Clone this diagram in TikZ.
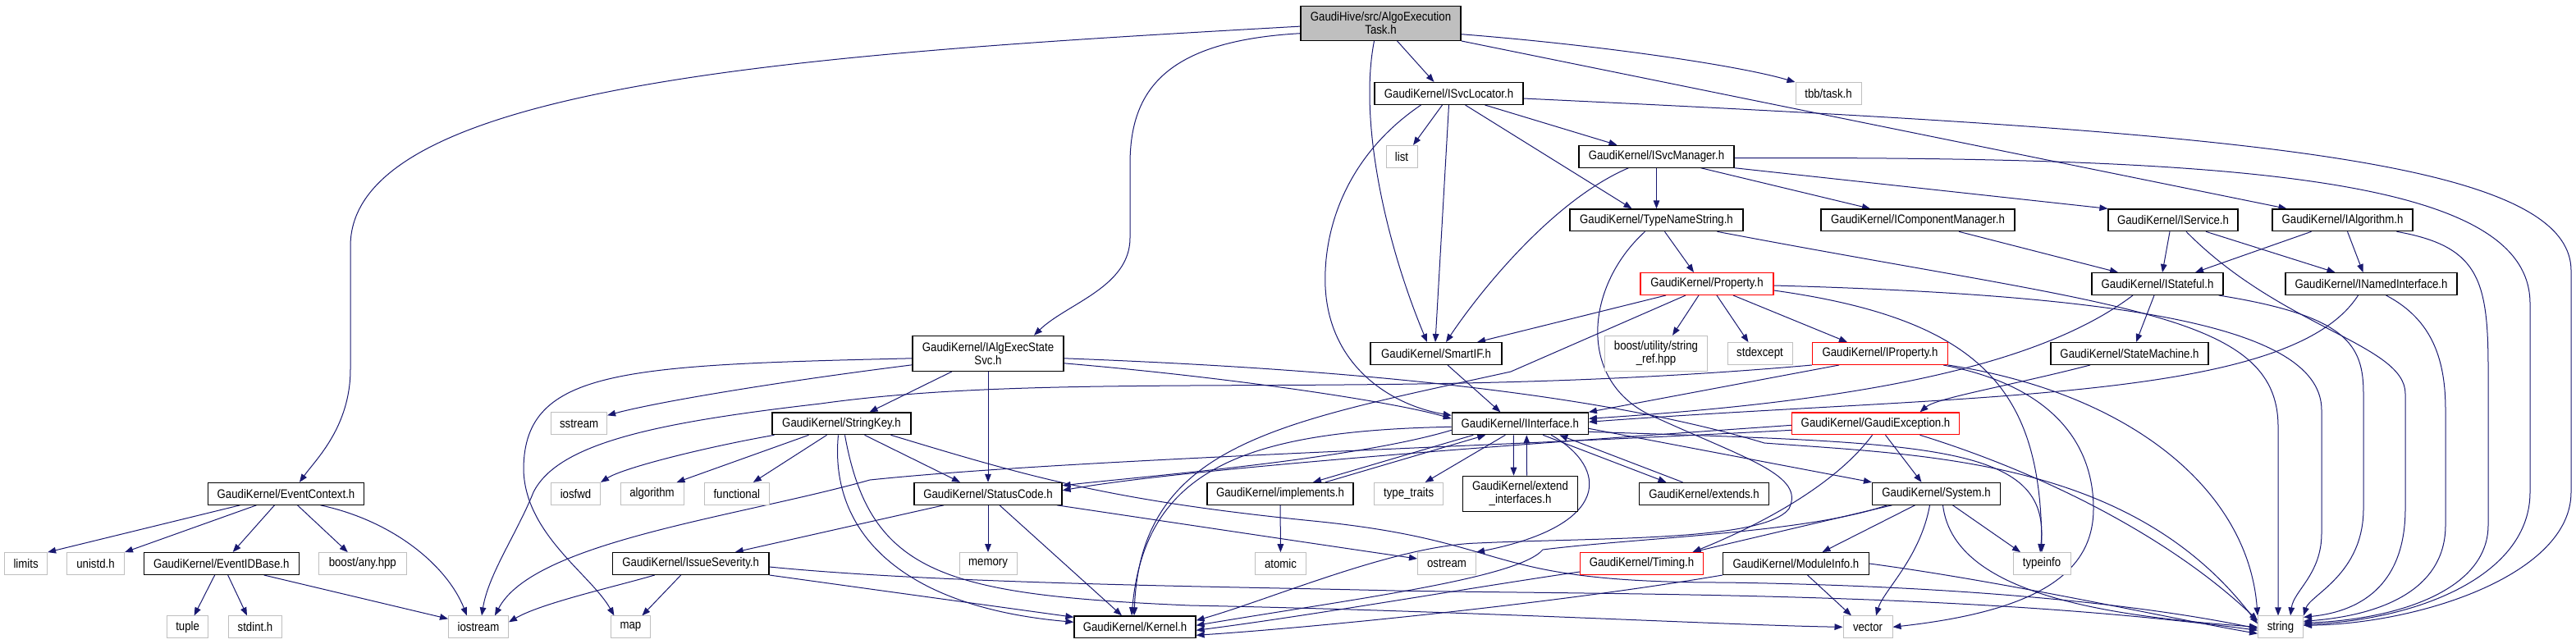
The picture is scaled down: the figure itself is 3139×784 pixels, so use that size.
\documentclass[tikz,border=0pt]{standalone}
\usepackage{fontspec}
\setmainfont{Liberation Sans}[FakeStretch=0.87]
\usepackage{tikz}
\usetikzlibrary{arrows.meta}
\usetikzlibrary{backgrounds}
\definecolor{edgeblue}{HTML}{191970}
\definecolor{sysgray}{HTML}{BFBFBF}
\newcommand{\hdrfont}{\fontsize{7.6pt}{7.9pt}\selectfont}
\tikzstyle{hdr}=[rectangle,draw=black,line width=0.6pt,fill=white,inner sep=0pt,minimum height=13.4pt,font=\hdrfont]
\tikzstyle{hdrtwo}=[hdr,minimum height=21.5pt,align=center]
\tikzstyle{sys}=[hdr,draw=sysgray,line width=0.5pt]
\tikzstyle{systwo}=[hdrtwo,draw=sysgray,line width=0.5pt]
\tikzstyle{warn}=[hdr,draw=red]
\tikzstyle{root}=[hdrtwo,minimum height=21pt,fill=sysgray]
\tikzstyle{dep}=[-{Triangle[length=5pt,width=3.8pt]},draw=edgeblue,line width=0.5pt]
\begin{document}
\begin{tikzpicture}[x=0.5pt,y=-0.5pt]
\useasboundingbox (0,0) rectangle (3139,784);
\node[root,minimum width=97.5pt] (top) at (1682.5,28.3) {GaudiHive/src/AlgoExecution\\Task.h};
\node[hdr,minimum width=90.5pt] (svcloc) at (1765.5,114) {GaudiKernel/ISvcLocator.h};
\node[sys,minimum width=40pt] (tbb) at (2228,114) {tbb/task.h};
\node[sys,minimum width=19pt] (list) at (1708,190.7) {list};
\node[hdr,minimum width=94.5pt] (svcmgr) at (2018.5,190.7) {GaudiKernel/ISvcManager.h};
\node[hdr,minimum width=105.5pt] (typename) at (2018.5,268.3) {GaudiKernel/TypeNameString.h};
\node[hdr,minimum width=118pt] (compmgr) at (2337,268.3) {GaudiKernel/IComponentManager.h};
\node[hdr,minimum width=79pt] (iservice) at (2648,268.3) {GaudiKernel/IService.h};
\node[hdr,minimum width=85.5pt] (ialgo) at (2854.5,268.3) {GaudiKernel/IAlgorithm.h};
\node[warn,minimum width=81pt] (property) at (2080,346) {GaudiKernel/Property.h};
\node[hdr,minimum width=80pt] (istateful) at (2629,346) {GaudiKernel/IStateful.h};
\node[hdr,minimum width=104.5pt] (inamed) at (2889.5,346) {GaudiKernel/INamedInterface.h};
\node[hdrtwo,minimum width=92pt] (algexec) at (1204,430.8) {GaudiKernel/IAlgExecState\\Svc.h};
\node[hdr,minimum width=80pt] (smartif) at (1750,431) {GaudiKernel/SmartIF.h};
\node[systwo,minimum width=62.5pt] (boostsr) at (2018,430.8) {boost/utility/string\\\_ref.hpp};
\node[sys,minimum width=39.5pt] (stdexcept) at (2144.5,431) {stdexcept};
\node[warn,minimum width=82.5pt] (iproperty) at (2291,431) {GaudiKernel/IProperty.h};
\node[hdr,minimum width=96pt] (statemach) at (2595,431) {GaudiKernel/StateMachine.h};
\node[sys,minimum width=34pt] (sstream) at (705.6,516.3) {sstream};
\node[hdr,minimum width=84.5pt] (stringkey) at (1025.5,516.3) {GaudiKernel/StringKey.h};
\node[hdr,minimum width=83pt] (iinterface) at (1852.3,516.3) {GaudiKernel/IInterface.h};
\node[warn,minimum width=101.75pt] (gexcept) at (2285.5,516.3) {GaudiKernel/GaudiException.h};
\node[hdr,minimum width=95pt] (eventctx) at (348.5,601.8) {GaudiKernel/EventContext.h};
\node[sys,minimum width=30pt] (iosfwd) at (701.5,601.8) {iosfwd};
\node[sys,minimum width=38.5pt] (algorithm) at (794.5,601.8) {algorithm};
\node[sys,minimum width=39.25pt] (functional) at (897.8,601.8) {functional};
\node[hdr,minimum width=90pt] (statuscode) at (1204,601.8) {GaudiKernel/StatusCode.h};
\node[hdr,minimum width=89pt] (implements) at (1560,601.8) {GaudiKernel/implements.h};
\node[sys,minimum width=42pt] (typetraits) at (1716.6,601.8) {type\_traits};
\node[hdrtwo,minimum width=70pt] (extendif) at (1852.5,601.8) {GaudiKernel/extend\\\_interfaces.h};
\node[hdr,minimum width=79pt] (extends) at (2076.5,601.8) {GaudiKernel/extends.h};
\node[hdr,minimum width=78pt] (system) at (2359.5,601.8) {GaudiKernel/System.h};
\node[sys,minimum width=26pt] (limits) at (31.6,687) {limits};
\node[sys,minimum width=35pt] (unistd) at (116.5,687) {unistd.h};
\node[hdr,minimum width=94.5pt] (eventid) at (269.7,687) {GaudiKernel/EventIDBase.h};
\node[sys,minimum width=53.5pt] (boostany) at (441.8,687) {boost/any.hpp};
\node[hdr,minimum width=95.3pt] (issue) at (841.7,687) {GaudiKernel/IssueSeverity.h};
\node[sys,minimum width=35pt] (memory) at (1204,687) {memory};
\node[sys,minimum width=31pt] (atomic) at (1560.5,687) {atomic};
\node[sys,minimum width=35.5pt] (ostream) at (1763,687) {ostream};
\node[warn,minimum width=75pt] (timing) at (2000.5,687) {GaudiKernel/Timing.h};
\node[hdr,minimum width=89pt] (moduleinfo) at (2188.5,687) {GaudiKernel/ModuleInfo.h};
\node[sys,minimum width=35pt] (typeinfo) at (2488,687) {typeinfo};
\node[sys,minimum width=25pt] (tuple) at (228.6,764.3) {tuple};
\node[sys,minimum width=32.5pt] (stdint) at (311,764.3) {stdint.h};
\node[sys,minimum width=36.5pt] (iostream) at (583,764.3) {iostream};
\node[sys,minimum width=24pt] (map) at (768.4,764.3) {map};
\node[hdr,minimum width=74pt] (kernel) at (1383,764.3) {GaudiKernel/Kernel.h};
\node[sys,minimum width=30pt] (vector) at (2276,764.3) {vector};
\node[sys,minimum width=27.5pt] (string) at (2779,764.3) {string};
\begin{pgfonlayer}{background}
% AlgoExecutionTask.h
\draw[dep] ([yshift=-1.9pt]top.west) .. controls (1000,65) and (427,100) .. (427,300) -- (427,450) .. controls (427,520) and (385,560) .. ([xshift=8.2pt]eventctx.north);
\draw[dep] ([yshift=-6.2pt]top.west) .. controls (1420,50) and (1377,110) .. (1377,200) -- (1377,290) .. controls (1377,350) and (1300,370) .. ([xshift=28pt]algexec.north);
\draw[dep] ([xshift=10pt]top.south) -- ([xshift=-9pt]svcloc.north);
\draw[dep] ([xshift=-4pt]top.south) .. controls (1655,150) and (1690,300) .. ([xshift=-5.5pt]smartif.north);
\draw[dep] ([yshift=-6.7pt]top.east) .. controls (1950,55) and (2120,80) .. (tbb.north west);
\draw[dep] (top.south east) -- ([xshift=-34pt]ialgo.north);
% ISvcLocator.h
\draw[dep] ([xshift=-4pt]svcloc.south) -- ([xshift=7pt]list.north);
\draw[dep] (svcloc.south) -- ([xshift=-0.5pt]smartif.north);
\draw[dep] ([xshift=-17pt]svcloc.south) .. controls (1640,190) and (1612,280) .. (1615,350) .. controls (1620,450) and (1700,495) .. ([yshift=5pt]iinterface.west);
\draw[dep] ([xshift=10pt]svcloc.south) -- ([xshift=-15pt]typename.north);
\draw[dep] ([xshift=22pt]svcloc.south) -- ([xshift=-24pt]svcmgr.north);
\draw[dep] ([yshift=-3pt]svcloc.east) .. controls (2700,160) and (3133,190) .. (3133,330) -- (3133,600) .. controls (3133,700) and (2950,760) .. ([yshift=1pt]string.east);
% ISvcManager.h
\draw[dep] (svcmgr) -- (typename);
\draw[dep] ([xshift=-17pt]svcmgr.south) .. controls (1890,245) and (1800,360) .. ([xshift=6pt]smartif.north);
\draw[dep] ([xshift=27pt]svcmgr.south) -- ([xshift=-29pt]compmgr.north);
\draw[dep] (svcmgr.south east) -- (iservice.north west);
\draw[dep] ([yshift=-1pt]svcmgr.east) .. controls (2750,190) and (3083,220) .. (3083,370) -- (3083,600) .. controls (3083,700) and (2950,755) .. ([yshift=1.5pt]string.east);
% TypeNameString.h
\draw[dep] ([xshift=5pt]typename.south) -- ([xshift=-8pt]property.north);
\draw[dep] ([xshift=37pt]typename.south) .. controls (2580,375) and (2776,380) .. (2776,520) -- ([xshift=-1.5pt]string.north);
\draw[dep] ([xshift=-7pt]typename.south) .. controls (1930,350) and (1920,470) .. (2020,510) .. controls (2130,560) and (2200,580) .. (2180,620) .. controls (2150,660) and (1950,655) .. (1800,662) .. controls (1700,665) and (1550,730) .. ([yshift=4pt]kernel.east);
% interfaces
\draw[dep] ([xshift=25pt]compmgr.south) -- ([xshift=-24pt]istateful.north);
\draw[dep] ([xshift=-2pt]iservice.south) -- ([xshift=3pt]istateful.north);
\draw[dep] ([xshift=20pt]iservice.south) -- ([xshift=-22pt]inamed.north);
\draw[dep] ([xshift=8pt]iservice.south) .. controls (2780,400) and (2931,420) .. (2931,480) -- (2931,620) .. controls (2931,710) and (2880,745) .. ([yshift=6pt]string.east);
\draw[dep] ([xshift=-19pt]ialgo.south) -- ([xshift=23pt]istateful.north);
\draw[dep] ([xshift=3pt]ialgo.south) -- ([xshift=-5pt]inamed.north);
\draw[dep] ([xshift=33pt]ialgo.south) .. controls (3020,300) and (3032,340) .. (3032,450) -- (3032,640) .. controls (3032,720) and (2920,755) .. ([yshift=2.5pt]string.east);
\draw[dep] ([xshift=-15pt]istateful.south) .. controls (2480,450) and (2250,490) .. ([yshift=3pt]iinterface.east);
\draw[dep] ([xshift=-2pt]istateful.south) -- ([xshift=4pt]statemach.north);
\draw[dep] ([xshift=-3pt]istateful.south east) .. controls (2860,385) and (2880,420) .. (2880,480) -- (2880,620) .. controls (2880,700) and (2815,725) .. (string.north east);
\draw[dep] ([xshift=-8pt]inamed.south) .. controls (2790,490) and (2400,480) .. ([yshift=1pt]iinterface.east);
\draw[dep] ([xshift=9pt]inamed.south) .. controls (2965,390) and (2980,440) .. (2980,500) -- (2980,640) .. controls (2980,720) and (2900,750) .. ([yshift=3.5pt]string.east);
\draw[dep] ([xshift=-24pt]statemach.south) .. controls (2450,470) and (2360,485) .. ([xshift=27pt]gexcept.north);
% Property.h and IProperty.h
\draw[dep] ([xshift=-25pt]property.south) -- ([xshift=25pt]smartif.north);
\draw[dep] ([xshift=-5pt]property.south) -- ([xshift=10pt]boostsr.north);
\draw[dep] ([xshift=6pt]property.south) -- ([xshift=-7pt]stdexcept.north);
\draw[dep] ([xshift=16pt]property.south) -- ([xshift=-20pt]iproperty.north);
\draw[dep] ([xshift=-13pt]property.south) -- (1841,453) .. controls (1560,515) and (1390,540) .. ([xshift=-0.5pt]kernel.north);
\draw[dep] ([yshift=-1pt]property.east) .. controls (2600,360) and (2829,400) .. (2829,500) -- (2829,650) .. controls (2829,700) and (2795,720) .. ([xshift=6pt]string.north);
\draw[dep] ([yshift=-4pt]property.east) .. controls (2420,390) and (2487,480) .. (typeinfo.north);
\draw[dep] ([xshift=-25pt]iproperty.south) -- (iinterface.north east);
\draw[dep] (iproperty.south west) .. controls (1700,490) and (1300,450) .. (1000,492) .. controls (800,515) and (680,540) .. (650,600) .. controls (630,650) and (595,700) .. ([xshift=2pt]iostream.north);
\draw[dep] (iproperty.south east) .. controls (2600,480) and (2740,600) .. (string.north west);
\draw[dep] ([xshift=-3pt]iproperty.south east) .. controls (2500,470) and (2551,540) .. (2551,620) .. controls (2551,700) and (2480,745) .. (vector.east);
% IAlgExecStateSvc.h
\draw[dep] ([xshift=-22pt]algexec.south) -- ([xshift=17pt]stringkey.north);
\draw[dep] (algexec) -- (statuscode);
\draw[dep] ([yshift=-7pt]algexec.west) .. controls (950,465) and (800,490) .. ([yshift=5pt]sstream.east);
\draw[dep] ([yshift=-3pt]algexec.west) .. controls (760,445) and (640,450) .. (638,570) .. controls (638,650) and (720,700) .. ([xshift=-10pt]map.north);
\draw[dep] ([yshift=-6pt]algexec.east) .. controls (1500,460) and (1700,490) .. ([yshift=3pt]iinterface.west);
\draw[dep] ([yshift=-3pt]algexec.east) .. controls (1650,450) and (1950,480) .. (2150,540) .. controls (2350,555) and (2600,560) .. ([yshift=2pt]string.west);
% StringKey.h
\draw[dep] ([xshift=-41pt]stringkey.south) .. controls (860,545) and (760,570) .. (iosfwd.north east);
\draw[dep] ([xshift=-20pt]stringkey.south) -- ([xshift=15pt]algorithm.north);
\draw[dep] ([xshift=-9pt]stringkey.south) -- ([xshift=10pt]functional.north);
\draw[dep] ([xshift=14pt]stringkey.south) -- ([xshift=-17pt]statuscode.north);
\draw[dep] ([xshift=-2pt]stringkey.south) .. controls (1010,650) and (1100,740) .. ([yshift=3pt]kernel.west);
\draw[dep] ([xshift=2pt]stringkey.south) .. controls (1060,700) and (1150,725) .. (1450,738) .. controls (1800,745) and (2100,762) .. (vector.west);
\draw[dep] ([xshift=30pt]stringkey.south) .. controls (1250,580) and (1350,610) .. (1600,635) .. controls (1850,660) and (1800,710) .. (2100,710) .. controls (2450,715) and (2650,745) .. ([yshift=-1pt]string.west);
% StatusCode.h and IssueSeverity.h
\draw[dep] ([xshift=-27pt]statuscode.south) -- ([xshift=27pt]issue.north);
\draw[dep] (statuscode) -- (memory);
\draw[dep] ([xshift=7pt]statuscode.south) -- ([xshift=-8pt]kernel.north);
\draw[dep] ([xshift=42pt]statuscode.south) .. controls (1450,640) and (1650,670) .. ([yshift=3pt]ostream.west);
\draw[dep] ([xshift=-6pt]issue.south) -- ([xshift=7pt]map.north);
\draw[dep] ([xshift=-22pt]issue.south) .. controls (750,715) and (660,735) .. ([yshift=3pt]iostream.east);
\draw[dep] (issue.south east) -- ([yshift=6pt]kernel.west);
\draw[dep] ([yshift=-2pt]issue.east) .. controls (1150,712) and (1500,715) .. (1700,720) .. controls (2000,725) and (2400,722) .. ([yshift=-2pt]string.west);
% EventContext.h and EventIDBase.h
\draw[dep] ([xshift=-28pt]eventctx.south) -- (limits.north east);
\draw[dep] ([xshift=-18pt]eventctx.south) -- (unistd.north east);
\draw[dep] ([xshift=-7pt]eventctx.south) -- ([xshift=7pt]eventid.north);
\draw[dep] ([xshift=7pt]eventctx.south) -- ([xshift=-9pt]boostany.north);
\draw[dep] ([xshift=21pt]eventctx.south) .. controls (480,635) and (545,690) .. ([xshift=-7pt]iostream.north);
\draw[dep] ([xshift=-4pt]eventid.south) -- ([xshift=4pt]tuple.north);
\draw[dep] ([xshift=4pt]eventid.south) -- ([xshift=-5pt]stdint.north);
\draw[dep] ([xshift=26pt]eventid.south) -- ([yshift=5pt]iostream.west);
% SmartIF.h and IInterface.h
\draw[dep] ([xshift=7pt]smartif.south) -- ([xshift=-12pt]iinterface.north);
\draw[dep] ([yshift=-2pt]iinterface.west) .. controls (1520,525) and (1395,570) .. ([xshift=-2pt]kernel.north);
\draw[dep] ([yshift=-4pt]iinterface.west) .. controls (1650,560) and (1400,580) .. ([yshift=5pt]statuscode.east);
\draw[dep] ([yshift=-3pt]iinterface.east) -- (system.north west);
\draw[dep] ([xshift=19pt]iinterface.south) .. controls (1960,570) and (1965,640) .. (ostream.north east);
\draw[dep] ([xshift=-9pt]iinterface.south) -- ([xshift=10pt]typetraits.north);
\draw[dep] ([xshift=-4pt]iinterface.south) -- ([xshift=-4pt]extendif.north);
\draw[dep] ([xshift=14pt]iinterface.south) -- ([xshift=-23pt]extends.north);
\draw[dep] ([xshift=-28.5pt]iinterface.south) -- ([xshift=20pt]implements.north);
\draw[dep] ([yshift=-5pt]iinterface.east) .. controls (2350,540) and (2500,540) .. ([xshift=-1pt]typeinfo.north);
\draw[dep] ([xshift=4pt]extendif.north) -- ([xshift=4pt]iinterface.south);
\draw[dep] ([xshift=-13pt]extends.north) -- ([xshift=24pt]iinterface.south);
\draw[dep] ([xshift=27.5pt]implements.north) -- ([xshift=-21pt]iinterface.south);
\draw[dep] (implements) -- (atomic);
% GaudiException.h
\draw[dep] ([xshift=6pt]gexcept.south) -- ([xshift=-9pt]system.north);
\draw[dep] ([yshift=-1pt]gexcept.west) .. controls (1900,538) and (1450,570) .. ([yshift=2pt]statuscode.east);
\draw[dep] ([yshift=-4pt]gexcept.west) .. controls (1800,545) and (1300,560) .. (1060,585) .. controls (900,630) and (650,660) .. ([xshift=10pt]iostream.north);
\draw[dep] ([xshift=-2pt]gexcept.south) .. controls (2230,600) and (2120,650) .. ([xshift=31pt]timing.north);
\draw[dep] ([xshift=27pt]gexcept.south) .. controls (2500,580) and (2650,660) .. ([yshift=4pt]string.west);
% System.h, Timing.h, ModuleInfo.h
\draw[dep] ([xshift=-27pt]system.south) -- ([xshift=31pt]timing.north);
\draw[dep] ([xshift=-30pt]system.south) .. controls (2200,650) and (2000,655) .. (1880,670) .. controls (1850,705) and (1650,730) .. ([yshift=1pt]kernel.east);
\draw[dep] ([xshift=-13pt]system.south) -- ([xshift=16pt]moduleinfo.north);
\draw[dep] ([xshift=-4pt]system.south) .. controls (2340,680) and (2295,720) .. ([xshift=5pt]vector.north);
\draw[dep] ([xshift=4pt]system.south) .. controls (2380,720) and (2550,750) .. (string.west);
\draw[dep] ([xshift=10pt]system.south) -- ([xshift=-13pt]typeinfo.north);
\draw[dep] ([yshift=-5pt]timing.west) .. controls (1800,715) and (1600,750) .. ([yshift=-2pt]kernel.east);
\draw[dep] (moduleinfo.south west) .. controls (1900,735) and (1600,765) .. ([yshift=-5pt]kernel.east);
\draw[dep] ([xshift=7pt]moduleinfo.south) -- ([xshift=-10pt]vector.north);
\draw[dep] (moduleinfo.east) .. controls (2450,710) and (2650,755) .. ([yshift=-4pt]string.west);
\end{pgfonlayer}
\end{tikzpicture}
\end{document}
